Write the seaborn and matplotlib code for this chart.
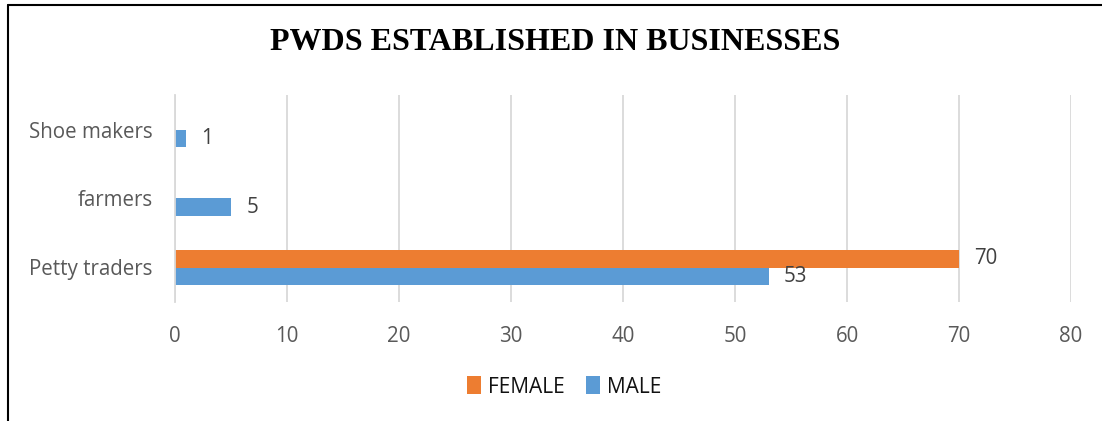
import matplotlib
matplotlib.use("Agg")
import matplotlib.pyplot as plt
import seaborn as sns
import pandas as pd
import numpy as np
from matplotlib.lines import Line2D
from matplotlib.patches import Patch

categories = ["Shoe makers", "farmers", "Petty traders"]
female = [np.nan, np.nan, 70]
male = [1, 5, 53]
series = ["FEMALE", "MALE"]
colors = {"FEMALE": "#ED7D31", "MALE": "#5B9BD5"}
xticks = [0, 10, 20, 30, 40, 50, 60, 70, 80]

df = pd.DataFrame({
    "category": categories * 2,
    "series": ["FEMALE"] * 3 + ["MALE"] * 3,
    "value": female + male,
})

sns.set_theme(style="white")
plt.rcParams["font.family"] = ["Open Sans", "DejaVu Sans"]

fig = plt.figure(figsize=(11.02, 4.21), dpi=100)
ax = fig.add_axes([175/1102, 1-302/421, (1071-175)/1102, (302-95)/421])

sns.barplot(data=df, y="category", x="value", hue="series", order=categories,
            hue_order=series, palette=colors, orient="h", width=0.52,
            saturation=1, ax=ax, legend=False, linewidth=0)

ax.set_xlim(0, 80)
ax.set_ylim(2.5, -0.5)
ax.set_xticks(xticks)
ax.set_xticklabels([str(t) for t in xticks])
ax.grid(axis="x", color="#D9D9D9", linewidth=1.3)
ax.grid(axis="y", visible=False)
ax.set_axisbelow(True)
for s in ["top", "right", "bottom"]:
    ax.spines[s].set_visible(False)
ax.spines["left"].set_color("#D9D9D9")
ax.spines["left"].set_linewidth(1.3)
ax.set_xlabel("")
ax.set_ylabel("")
ax.tick_params(axis="x", colors="#595959", labelsize=14.8, length=0, pad=17)
ax.tick_params(axis="y", colors="#595959", labelsize=14.8, length=0, pad=16)

for cont in ax.containers:
    for bar in cont:
        w = bar.get_width()
        if np.isnan(w) or w == 0:
            continue
        y = bar.get_y() + bar.get_height() / 2
        ax.annotate(f"{int(round(w))}", (w, y), xytext=(11, 0), textcoords="offset points",
                    ha="left", va="center", fontsize=14.8, color="#404040")

fig.text(555/1102, 1-43/421, "PWDS ESTABLISHED IN BUSINESSES", ha="center", va="center",
         fontsize=23, fontweight="bold", family=["Liberation Serif", "DejaVu Serif"], color="black")

handles = [Patch(facecolor=colors[s], edgecolor="none") for s in series]
fig.legend(handles, series, loc="center", bbox_to_anchor=(564/1102, 1-387/421), ncol=2,
           frameon=False, fontsize=15, handlelength=0.67, handleheight=0.95,
           handletextpad=0.34, columnspacing=1.0, labelcolor="#111111")

fig.add_artist(Line2D([8/1102, 8/1102], [0, 1-5/421], color="black", linewidth=1.5))
fig.add_artist(Line2D([8/1102, 1], [1-5/421, 1-5/421], color="black", linewidth=1.5))

fig.savefig("out.png", dpi=100)
